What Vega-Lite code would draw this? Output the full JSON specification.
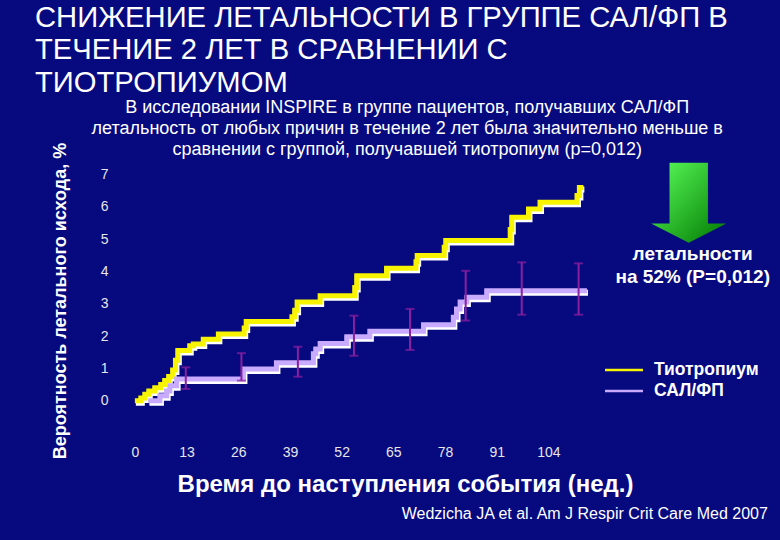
{
  "$schema": "https://vega.github.io/schema/vega-lite/v6.json",
  "width": 660,
  "height": 281,
  "autosize": {"type": "none"},
  "padding": {"left": 115, "top": 160, "right": 5, "bottom": 99},
  "background": "#07097f",
  "config": {"view": {"stroke": null}, "font": "Liberation Sans"},
  "title": {
    "text": ["СНИЖЕНИЕ ЛЕТАЛЬНОСТИ В ГРУППЕ САЛ/ФП В", "ТЕЧЕНИЕ 2 ЛЕТ В СРАВНЕНИИ С", "ТИОТРОПИУМОМ"],
    "anchor": "start",
    "frame": "group",
    "dx": -80,
    "dy": -1,
    "fontSize": 29.2,
    "fontWeight": "normal",
    "font": "Liberation Sans",
    "color": "#ffffff",
    "lineHeight": 32.5,
    "offset": 0
  },
  "datasets": {
    "curves": [
      {"series": "Тиотропиум", "week": 0, "value": 0},
      {"series": "Тиотропиум", "week": 1.5, "value": 0.08},
      {"series": "Тиотропиум", "week": 2.5, "value": 0.2},
      {"series": "Тиотропиум", "week": 3.5, "value": 0.3},
      {"series": "Тиотропиум", "week": 5, "value": 0.4},
      {"series": "Тиотропиум", "week": 6.5, "value": 0.5},
      {"series": "Тиотропиум", "week": 7.5, "value": 0.62},
      {"series": "Тиотропиум", "week": 8.5, "value": 0.75},
      {"series": "Тиотропиум", "week": 9.5, "value": 0.95},
      {"series": "Тиотропиум", "week": 10.2, "value": 1.25},
      {"series": "Тиотропиум", "week": 10.8, "value": 1.55},
      {"series": "Тиотропиум", "week": 13.8, "value": 1.7},
      {"series": "Тиотропиум", "week": 14.7, "value": 1.75},
      {"series": "Тиотропиум", "week": 17.2, "value": 1.9},
      {"series": "Тиотропиум", "week": 21, "value": 2.06},
      {"series": "Тиотропиум", "week": 27.5, "value": 2.25},
      {"series": "Тиотропиум", "week": 28, "value": 2.45},
      {"series": "Тиотропиум", "week": 39.5, "value": 2.6},
      {"series": "Тиотропиум", "week": 40.2, "value": 2.8},
      {"series": "Тиотропиум", "week": 40.8, "value": 3.05},
      {"series": "Тиотропиум", "week": 46.6, "value": 3.25},
      {"series": "Тиотропиум", "week": 55.3, "value": 3.5},
      {"series": "Тиотропиум", "week": 55.8, "value": 3.87},
      {"series": "Тиотропиум", "week": 63.3, "value": 4.1},
      {"series": "Тиотропиум", "week": 70.7, "value": 4.3},
      {"series": "Тиотропиум", "week": 71, "value": 4.49},
      {"series": "Тиотропиум", "week": 77.8, "value": 4.75},
      {"series": "Тиотропиум", "week": 78.2, "value": 4.96},
      {"series": "Тиотропиум", "week": 94.4, "value": 5.3},
      {"series": "Тиотропиум", "week": 94.8, "value": 5.68},
      {"series": "Тиотропиум", "week": 99, "value": 5.93},
      {"series": "Тиотропиум", "week": 101.9, "value": 6.14},
      {"series": "Тиотропиум", "week": 111.2, "value": 6.35},
      {"series": "Тиотропиум", "week": 111.8, "value": 6.6},
      {"series": "Тиотропиум", "week": 112.8, "value": 6.6},
      {"series": "САЛ/ФП", "week": 3.4, "value": 0},
      {"series": "САЛ/ФП", "week": 6.3, "value": 0.15},
      {"series": "САЛ/ФП", "week": 8, "value": 0.3},
      {"series": "САЛ/ФП", "week": 8.8, "value": 0.46},
      {"series": "САЛ/ФП", "week": 10.5, "value": 0.67},
      {"series": "САЛ/ФП", "week": 27.3, "value": 0.98},
      {"series": "САЛ/ФП", "week": 35.6, "value": 1.17},
      {"series": "САЛ/ФП", "week": 44.9, "value": 1.45},
      {"series": "САЛ/ФП", "week": 45.5, "value": 1.6},
      {"series": "САЛ/ФП", "week": 46.6, "value": 1.77},
      {"series": "САЛ/ФП", "week": 53.3, "value": 1.98},
      {"series": "САЛ/ФП", "week": 59.1, "value": 2.15},
      {"series": "САЛ/ФП", "week": 72.6, "value": 2.35},
      {"series": "САЛ/ФП", "week": 80.1, "value": 2.58},
      {"series": "САЛ/ФП", "week": 80.9, "value": 2.84},
      {"series": "САЛ/ФП", "week": 81.8, "value": 3.05},
      {"series": "САЛ/ФП", "week": 83.5, "value": 3.2},
      {"series": "САЛ/ФП", "week": 88.5, "value": 3.4},
      {"series": "САЛ/ФП", "week": 113.7, "value": 3.4}
    ],
    "ci": [
      {"week": 12.8, "lo": 0.36, "hi": 1.03},
      {"week": 26.8, "lo": 0.62, "hi": 1.47},
      {"week": 41, "lo": 0.74, "hi": 1.67},
      {"week": 55.1, "lo": 1.39, "hi": 2.63},
      {"week": 69.2, "lo": 1.57, "hi": 2.84},
      {"week": 83.2, "lo": 2.48, "hi": 4.02},
      {"week": 97.3, "lo": 2.66, "hi": 4.28},
      {"week": 111.6, "lo": 2.66, "hi": 4.25}
    ]
  },
  "layer": [
    {
      "data": {"name": "curves"},
      "mark": {"type": "line", "interpolate": "step-after", "color": "#ffffff", "strokeWidth": 6, "yOffset": 2, "xOffset": 1},
      "encoding": {
        "x": {
          "field": "week", "type": "quantitative",
          "title": "Время до наступления события (нед.)",
          "scale": {"domain": [-5, 161], "nice": false, "zero": false},
          "axis": {
            "values": [0, 13, 26, 39, 52, 65, 78, 91, 104],
            "titleFont": "Liberation Sans",
            "titleFontSize": 24,
            "titleFontWeight": "bold",
            "titleColor": "#ffffff",
            "titleX": 290,
            "titleY": 50,
            "titleBaseline": "alphabetic",
            "labelFont": "Liberation Sans",
            "labelFontSize": 14,
            "labelColor": "#e6e6e6",
            "labelPadding": 4,
            "labelFlush": false,
            "ticks": false,
            "domain": false,
            "grid": false
          }
        },
        "y": {
          "field": "value", "type": "quantitative",
          "title": "Вероятность летального исхода, %",
          "scale": {"domain": [-1.25, 7.45], "nice": false, "zero": false},
          "axis": {
            "values": [0, 1, 2, 3, 4, 5, 6, 7],
            "titleFont": "Liberation Sans",
            "titleFontSize": 18,
            "titleFontWeight": "bold",
            "titleColor": "#ffffff",
            "titlePadding": 31,
            "labelFont": "Liberation Sans",
            "labelFontSize": 14,
            "labelColor": "#e6e6e6",
            "labelPadding": 7,
            "ticks": false,
            "domain": false,
            "grid": false
          }
        },
        "detail": {"field": "series"}
      }
    },
    {
      "data": {"name": "curves"},
      "mark": {"type": "line", "interpolate": "step-after", "strokeWidth": 5},
      "encoding": {
        "x": {"field": "week", "type": "quantitative", "title": "Время до наступления события (нед.)"},
        "y": {"field": "value", "type": "quantitative", "title": "Вероятность летального исхода, %"},
        "color": {
          "field": "series", "type": "nominal",
          "scale": {"domain": ["Тиотропиум", "САЛ/ФП"], "range": ["#f8f400", "#c8aaff"]},
          "legend": {
            "title": null,
            "orient": "none",
            "legendX": 498,
            "legendY": 199,
            "padding": 0,
            "rowPadding": 1,
            "symbolType": "M-2,0L2,0",
            "symbolSize": 361,
            "symbolStrokeWidth": 2.5,
            "labelFont": "Liberation Sans",
            "labelFontSize": 17.5,
            "labelFontWeight": "bold",
            "labelColor": "#ffffff",
            "labelOffset": 19
          }
        }
      }
    },
    {
      "data": {"name": "ci"},
      "mark": {"type": "errorbar", "ticks": true, "size": 9, "thickness": 2, "color": "#8b1f9f"},
      "encoding": {
        "x": {"field": "week", "type": "quantitative", "title": "Время до наступления события (нед.)"},
        "y": {"field": "lo", "type": "quantitative", "title": "Вероятность летального исхода, %"},
        "y2": {"field": "hi"}
      }
    },
    {
      "data": {"values": [{}]},
      "mark": {
        "type": "point",
        "shape": "M-0.48,-1L0.48,-1L0.48,0.52L0.94,0.52L0,1L-0.94,0.52L-0.48,0.52Z",
        "size": 6400,
        "filled": true,
        "opacity": 1,
        "fill": {"gradient": "linear", "x1": 0, "y1": 0, "x2": 1, "y2": 1, "stops": [{"offset": 0, "color": "#5cff5c"}, {"offset": 1, "color": "#007800"}]},
        "strokeWidth": 0
      },
      "encoding": {"x": {"datum": 139.3}, "y": {"datum": 6.13}}
    },
    {
      "data": {"values": [{}]},
      "mark": {
        "type": "text",
        "text": ["В исследовании INSPIRE в группе пациентов, получавших САЛ/ФП", "летальность от любых причин в течение 2 лет была значительно меньше в", "сравнении с группой, получавшей тиотропиум (p=0,012)"],
        "font": "Liberation Sans",
        "fontSize": 18,
        "lineHeight": 21,
        "align": "center",
        "baseline": "alphabetic",
        "color": "#ffffff"
      },
      "encoding": {"x": {"datum": 68.5}, "y": {"datum": 8.9}}
    },
    {
      "data": {"values": [{}]},
      "mark": {
        "type": "text",
        "text": ["летальности", "на 52% (P=0,012)"],
        "font": "Liberation Sans",
        "fontSize": 19,
        "fontWeight": "bold",
        "lineHeight": 23,
        "align": "center",
        "baseline": "alphabetic",
        "color": "#ffffff"
      },
      "encoding": {"x": {"datum": 140.3}, "y": {"datum": 4.35}}
    },
    {
      "data": {"values": [{}]},
      "mark": {
        "type": "text",
        "text": "Wedzicha JA et al. Am J Respir Crit Care Med 2007",
        "font": "Liberation Sans",
        "fontSize": 16,
        "align": "right",
        "baseline": "alphabetic",
        "color": "#ffffff"
      },
      "encoding": {"x": {"datum": 159.2}, "y": {"datum": -3.67}}
    }
  ]
}
